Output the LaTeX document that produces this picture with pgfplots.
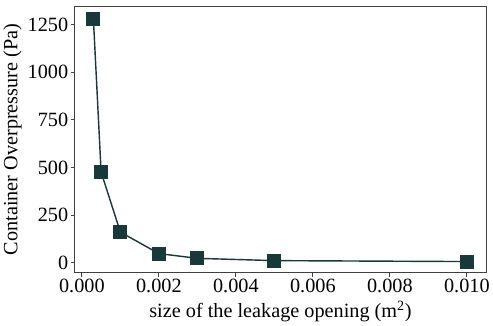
\documentclass[border={0pt 0pt 0pt 6bp}]{standalone}
\usepackage{pgfplots}
\pgfplotsset{compat=1.18}
\usepackage{fontspec}
\setmainfont{Liberation Serif}
\definecolor{lc}{RGB}{24,56,58}
\begin{document}
\begin{tikzpicture}
\begin{axis}[
  scale only axis,
  width=405bp, height=262bp,
  xmin=-0.000185, xmax=0.0105,
  ymin=-53, ymax=1346,
  xtick={0,0.002,0.004,0.006,0.008,0.010},
  ytick={0,250,500,750,1000,1250},
  xticklabel style={/pgf/number format/fixed,/pgf/number format/fixed zerofill,/pgf/number format/precision=3,yshift=1bp},
  yticklabel style={/pgf/number format/1000 sep={},xshift=1bp},
  scaled x ticks=false,
  /pgf/number format/assume math mode=true,
  tick align=outside,
  xtick pos=bottom, ytick pos=left,
  major tick length=4bp,
  axis line style={black!75, line width=0.8pt},
  tick style={black!75, line width=0.8pt},
  xlabel={size of the leakage opening (m\textsuperscript{2})},
  ylabel={Container Overpressure (Pa)},
  tick label style={font=\fontsize{20}{23}\selectfont},
  label style={font=\fontsize{20}{23}\selectfont},
  xlabel style={yshift=-1bp},
  ylabel style={yshift=-1bp},
]
\addplot[color=lc, line width=1.4pt, mark=square*, mark size=6.2bp, mark options={fill=lc, draw=lc}]
coordinates {
(0.0003,1278)
(0.0005,475)
(0.001,160)
(0.002,47)
(0.003,22)
(0.005,10)
(0.010,5)
};
\end{axis}
\end{tikzpicture}
\end{document}
